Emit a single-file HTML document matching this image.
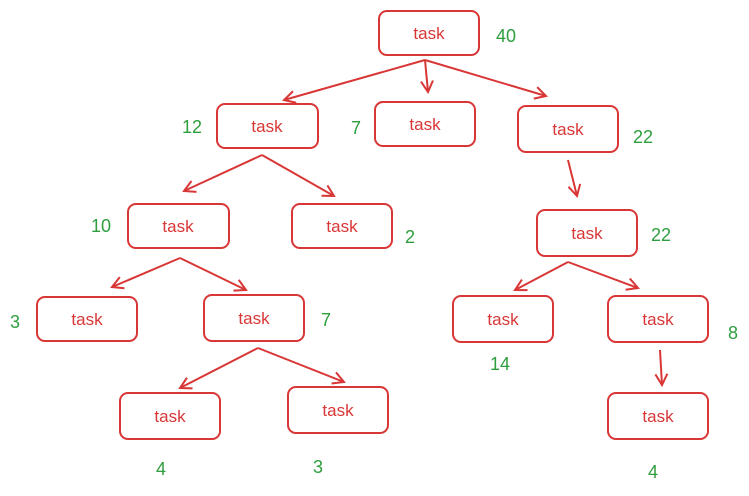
<!DOCTYPE html>
<html><head><style>
body{margin:0;background:#fff;width:749px;height:496px;overflow:hidden}
svg{display:block}
</style></head><body>
<svg width="749" height="496" xmlns="http://www.w3.org/2000/svg">
<defs><marker id="a" markerWidth="14" markerHeight="14" refX="12" refY="7" orient="auto" markerUnits="userSpaceOnUse"><path d="M1,1 L12,7 L1,13" fill="none" stroke="#d93636" stroke-width="2"/></marker></defs>
<g fill="none" stroke="#d93636" stroke-width="2" stroke-linejoin="round">
<rect x="379" y="11" width="100" height="44" rx="8"/>
<rect x="217" y="104" width="101" height="44" rx="8"/>
<rect x="375" y="102" width="100" height="44" rx="8"/>
<rect x="518" y="106" width="100" height="46" rx="8"/>
<rect x="128" y="204" width="101" height="44" rx="8"/>
<rect x="292" y="204" width="100" height="44" rx="8"/>
<rect x="537" y="210" width="100" height="46" rx="8"/>
<rect x="37" y="297" width="100" height="44" rx="8"/>
<rect x="204" y="295" width="100" height="46" rx="8"/>
<rect x="453" y="296" width="100" height="46" rx="8"/>
<rect x="608" y="296" width="100" height="46" rx="8"/>
<rect x="120" y="393" width="100" height="46" rx="8"/>
<rect x="288" y="387" width="100" height="46" rx="8"/>
<rect x="608" y="393" width="100" height="46" rx="8"/>
</g>
<g stroke="#d93636" stroke-width="2" marker-end="url(#a)" fill="none">
<line x1="425" y1="60" x2="284" y2="100"/>
<line x1="425" y1="60" x2="428" y2="92"/>
<line x1="425" y1="60" x2="546" y2="96"/>
<line x1="262" y1="155" x2="184" y2="191"/>
<line x1="262" y1="155" x2="334" y2="196"/>
<line x1="568" y1="160" x2="577" y2="196"/>
<line x1="180" y1="258" x2="112" y2="287"/>
<line x1="180" y1="258" x2="246" y2="290"/>
<line x1="568" y1="262" x2="515" y2="290"/>
<line x1="568" y1="262" x2="638" y2="288"/>
<line x1="258" y1="348" x2="180" y2="388"/>
<line x1="258" y1="348" x2="344" y2="382"/>
<line x1="660" y1="350" x2="662" y2="385"/>
</g>
<g font-family="Liberation Sans, sans-serif" font-size="17" fill="#d93636" text-anchor="middle">
<text x="429" y="39">task</text>
<text x="267" y="132">task</text>
<text x="425" y="130">task</text>
<text x="568" y="135">task</text>
<text x="178" y="232">task</text>
<text x="342" y="232">task</text>
<text x="587" y="239">task</text>
<text x="87" y="325">task</text>
<text x="254" y="324">task</text>
<text x="503" y="325">task</text>
<text x="658" y="325">task</text>
<text x="170" y="422">task</text>
<text x="338" y="416">task</text>
<text x="658" y="422">task</text>
</g>
<g font-family="Liberation Sans, sans-serif" font-size="18" fill="#2e9e3e" text-anchor="middle">
<text x="506" y="42">40</text>
<text x="192" y="133">12</text>
<text x="356" y="134">7</text>
<text x="643" y="143">22</text>
<text x="101" y="232">10</text>
<text x="410" y="243">2</text>
<text x="661" y="241">22</text>
<text x="15" y="328">3</text>
<text x="326" y="326">7</text>
<text x="500" y="370">14</text>
<text x="733" y="339">8</text>
<text x="161" y="475">4</text>
<text x="318" y="473">3</text>
<text x="653" y="478">4</text>
</g>
</svg>
</body></html>
